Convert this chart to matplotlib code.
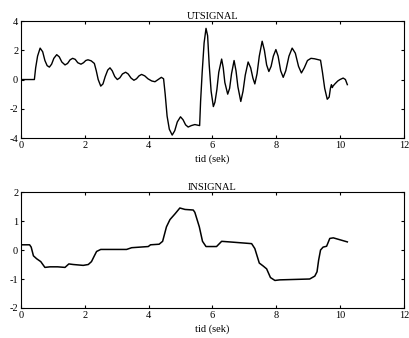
import matplotlib
matplotlib.use("Agg")
import matplotlib.pyplot as plt

# UTSIGNAL (output)
ut_t = [0.0, 0.42, 0.46, 0.52, 0.6, 0.68, 0.75, 0.82, 0.89, 0.96, 1.03, 1.12, 1.2, 1.28, 1.38,
        1.46, 1.54, 1.62, 1.7, 1.78, 1.88, 1.96, 2.03, 2.1, 2.2, 2.3, 2.36, 2.42, 2.5, 2.57,
        2.64, 2.72, 2.79, 2.86, 2.94, 3.02, 3.1, 3.18, 3.28, 3.36, 3.45, 3.54, 3.62, 3.7, 3.78,
        3.88, 3.98, 4.1, 4.2, 4.3, 4.4, 4.47, 4.52, 4.58, 4.65, 4.74, 4.82, 4.9, 5.0, 5.08,
        5.16, 5.24, 5.34, 5.45, 5.6, 5.63, 5.68, 5.74, 5.8, 5.85, 5.9, 5.96, 6.03, 6.08, 6.14,
        6.2, 6.29, 6.34, 6.39, 6.48, 6.54, 6.6, 6.68, 6.74, 6.8, 6.89, 6.96, 7.03, 7.12, 7.2,
        7.27, 7.33, 7.4, 7.47, 7.56, 7.63, 7.7, 7.77, 7.84, 7.91, 7.99, 8.06, 8.14, 8.22, 8.3,
        8.4, 8.5, 8.6, 8.7, 8.79, 8.88, 8.98, 9.09, 9.2, 9.39, 9.45, 9.52, 9.6, 9.66, 9.7,
        9.73, 9.76, 9.78, 9.84, 9.93, 10.0, 10.1, 10.17, 10.23]
ut_y = [0.0, 0.0, 0.8, 1.6, 2.15, 1.9, 1.3, 0.95, 0.85, 1.05, 1.45, 1.7, 1.55, 1.2, 1.0,
        1.1, 1.35, 1.45, 1.38, 1.15, 1.05, 1.15, 1.3, 1.35, 1.28, 1.1, 0.6, 0.0, -0.45, -0.3,
        0.2, 0.65, 0.8, 0.6, 0.2, 0.0, 0.12, 0.38, 0.5, 0.38, 0.1, -0.05, 0.05, 0.25, 0.35,
        0.25, 0.05, -0.1, -0.15, 0.0, 0.15, 0.05, -1.0, -2.5, -3.4, -3.8, -3.5, -2.9, -2.55, -2.75,
        -3.1, -3.25, -3.15, -3.08, -3.15, -1.5, 0.5, 2.5, 3.5, 3.0, 1.0, -0.8, -1.85, -1.55, -0.7,
        0.5, 1.4, 0.8, -0.2, -1.0, -0.6, 0.4, 1.3, 0.6, -0.5, -1.5, -0.8, 0.3, 1.2, 0.8,
        0.1, -0.3, 0.4, 1.6, 2.62, 2.0, 1.0, 0.55, 0.9, 1.6, 2.05, 1.6, 0.6, 0.15, 0.6,
        1.6, 2.15, 1.8, 0.9, 0.45, 0.8, 1.3, 1.45, 1.42, 1.32, 0.5, -0.6, -1.35, -1.2, -0.6,
        -0.35, -0.55, -0.45, -0.3, -0.1, 0.0, 0.1, 0.0, -0.35]

# INSIGNAL (input)
in_t = [0.0, 0.27, 0.32, 0.39, 0.49, 0.62, 0.75, 0.91, 1.15, 1.38, 1.5, 1.64, 1.95, 2.11, 2.21,
        2.3, 2.37, 2.5, 3.31, 3.47, 3.99, 4.06, 4.33, 4.44, 4.56, 4.67, 4.83, 4.98, 5.14, 5.4,
        5.45, 5.52, 5.59, 5.69, 5.8, 6.13, 6.29, 6.65, 7.23, 7.33, 7.47, 7.59, 7.7, 7.82, 7.96,
        8.11, 9.05, 9.21, 9.28, 9.33, 9.39, 9.47, 9.58, 9.68, 9.79, 10.23]
in_y = [0.18, 0.18, 0.1, -0.2, -0.3, -0.4, -0.6, -0.58, -0.58, -0.6, -0.48, -0.5, -0.53, -0.5, -0.4,
        -0.2, -0.05, 0.02, 0.02, 0.08, 0.12, 0.18, 0.2, 0.3, 0.8, 1.05, 1.25, 1.45, 1.4, 1.38,
        1.3, 1.05, 0.8, 0.3, 0.12, 0.12, 0.3, 0.27, 0.22, 0.05, -0.45, -0.55, -0.65, -0.95, -1.05,
        -1.03, -1.0, -0.9, -0.75, -0.35, 0.0, 0.1, 0.13, 0.4, 0.42, 0.28]

plt.rcParams['font.family'] = ['Liberation Serif', 'DejaVu Serif']
plt.rcParams['font.size'] = 7.5
plt.rcParams['axes.unicode_minus'] = False
plt.rcParams['xtick.direction'] = 'in'
plt.rcParams['ytick.direction'] = 'in'
plt.rcParams['xtick.top'] = True
plt.rcParams['ytick.right'] = True
plt.rcParams['xtick.major.size'] = 2.5
plt.rcParams['ytick.major.size'] = 2.5
plt.rcParams['axes.linewidth'] = 0.8

fig = plt.figure(figsize=(4.09, 3.38), dpi=100)

ax1 = fig.add_axes([0.0513, 0.5917, 0.936, 0.346])
ax1.plot(ut_t, ut_y, color='black', lw=1.0)
ax1.set_xlim(0, 12)
ax1.set_ylim(-4, 4)
ax1.set_xticks([0, 2, 4, 6, 8, 10, 12])
ax1.set_yticks([-4, -2, 0, 2, 4])
ax1.set_title('UTSIGNAL', fontsize=7.5, pad=1.5)
ax1.set_xlabel('tid (sek)', labelpad=3)
ax1.tick_params(pad=2)

ax2 = fig.add_axes([0.0513, 0.0888, 0.936, 0.343])
ax2.plot(in_t, in_y, color='black', lw=1.1)
ax2.set_xlim(0, 12)
ax2.set_ylim(-2, 2)
ax2.set_xticks([0, 2, 4, 6, 8, 10, 12])
ax2.set_yticks([-2, -1, 0, 1, 2])
ax2.set_title('INSIGNAL', fontsize=7.5, pad=1.5)
ax2.set_xlabel('tid (sek)', labelpad=3)
ax2.tick_params(pad=2)

fig.savefig('out.png', dpi=100)
